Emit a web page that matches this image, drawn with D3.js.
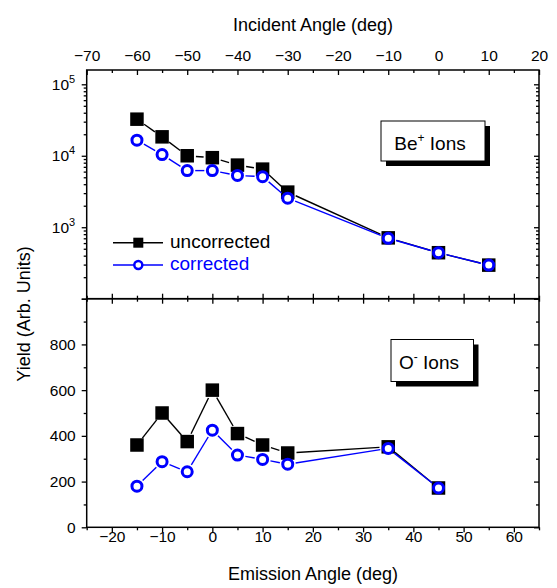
<!DOCTYPE html>
<html><head><meta charset="utf-8">
<script src="https://cdn.jsdelivr.net/npm/d3@7"></script>
<style>
html,body{margin:0;padding:0;background:#fff;}
text{font-family:"Liberation Sans",Arial,sans-serif;fill:#000;}
</style></head>
<body>
<svg id="chart" width="557" height="588"></svg>
<script>
// ---- data ----
const beAngles = [-15, -10, -5, 0, 5, 10, 15, 35, 45, 55];
const beUncorrected = [32500, 18400, 10000, 9400, 7400, 6500, 3100, 710, 440, 295];
const beCorrected = [16500, 10400, 6200, 6200, 5300, 5100, 2550, 700, 440, 295];
const oAngles = [-15, -10, -5, 0, 5, 10, 15, 35, 45];
const oUncorrected = [360, 500, 375, 600, 410, 360, 325, 352, 172];
const oCorrected = [180, 287, 243, 425, 316, 297, 276, 345, 172];
const emissionMajor = [-20, -10, 0, 10, 20, 30, 40, 50, 60];
const emissionMinor = [-25, -15, -5, 5, 15, 25, 35, 45, 55, 65];
const incidentMajor = [-70, -60, -50, -40, -30, -20, -10, 0, 10, 20];
const incidentMinor = [-65, -55, -45, -35, -25, -15, -5, 5, 15];
const logMajor = [1e2, 1e3, 1e4, 1e5];
const logLabeled = [1e3, 1e4, 1e5];
const linMajor = [0, 200, 400, 600, 800, 1000];
const linLabeled = [0, 200, 400, 600, 800];
const linMinor = [100, 300, 500, 700, 900];
const seriesNames = ["uncorrected", "corrected"];

// ---- layout ----
const L = 86.7, R = 539, T = 70, MID = 298.7, B = 527.3;
const svg = d3.select("#chart");

const x = d3.scaleLinear().domain([-25, 65]).range([L, R]);
const xTop = d3.scaleLinear().domain([-70, 20]).range([L, R]);
const yLog = d3.scaleLog().domain([100, Math.pow(10, 5.2)]).range([MID, T]);
const yLin = d3.scaleLinear().domain([0, 1000]).range([B, MID]);

const logMinor = [];
[100, 1000, 10000].forEach(dec => { for (let k = 2; k <= 9; k++) logMinor.push(dec * k); });

const FS = 15.5;
function styleAxis(g) {
  g.select(".domain").remove();
  g.selectAll(".tick line").attr("stroke", "#000").attr("stroke-width", 1.3);
  g.selectAll(".tick text").attr("font-size", FS).attr("font-family", "Liberation Sans, Arial, sans-serif");
}

// ---- axes ----
// top axis (incident angle), ticks inward
svg.append("g").attr("transform", `translate(0,${T})`)
  .call(d3.axisTop(xTop).tickValues(incidentMajor).tickSizeInner(-5).tickSizeOuter(0).tickPadding(9).tickFormat(d3.format("d")))
  .call(styleAxis);
svg.append("g").attr("transform", `translate(0,${T})`)
  .call(d3.axisTop(xTop).tickValues(incidentMinor).tickSizeInner(-3).tickSizeOuter(0).tickFormat(""))
  .call(styleAxis);

// middle divider ticks crossing
[[d3.axisTop, 5, 3], [d3.axisBottom, 5, 3]].forEach(([ax, maj, min]) => {
  svg.append("g").attr("transform", `translate(0,${MID})`)
    .call(ax(x).tickValues(emissionMajor).tickSizeInner(maj).tickSizeOuter(0).tickFormat(""))
    .call(styleAxis);
  svg.append("g").attr("transform", `translate(0,${MID})`)
    .call(ax(x).tickValues(emissionMinor).tickSizeInner(min).tickSizeOuter(0).tickFormat(""))
    .call(styleAxis);
});

// bottom axis
const bx = svg.append("g").attr("transform", `translate(0,${B})`)
  .call(d3.axisBottom(x).tickValues(emissionMajor).tickSizeInner(5).tickSizeOuter(0).tickFormat(d3.format("d")))
  .call(styleAxis);
bx.selectAll(".tick text").attr("y", 15).attr("dy", 0);
svg.append("g").attr("transform", `translate(0,${B})`)
  .call(d3.axisBottom(x).tickValues(emissionMinor).tickSizeInner(3).tickSizeOuter(0).tickFormat(""))
  .call(styleAxis);

// top panel left log axis
const ly = svg.append("g").attr("transform", `translate(${L},0)`)
  .call(d3.axisLeft(yLog).tickValues(logMajor).tickSizeInner(5).tickSizeOuter(0).tickPadding(6).tickFormat(""))
  .call(styleAxis);
ly.selectAll(".tick").filter(d => logLabeled.includes(d)).each(function (d) {
  const t = d3.select(this).select("text");
  t.attr("dy", "0.32em").attr("x", -11.5);
  t.append("tspan").text("10");
  t.append("tspan").attr("dy", -7).attr("font-size", 11).text(Math.round(Math.log10(d)));
});
svg.append("g").attr("transform", `translate(${L},0)`)
  .call(d3.axisLeft(yLog).tickValues(logMinor).tickSizeInner(3).tickSizeOuter(0).tickFormat(""))
  .call(styleAxis);
// top panel right log axis (inward)
svg.append("g").attr("transform", `translate(${R},0)`)
  .call(d3.axisRight(yLog).tickValues(logMajor).tickSizeInner(-5).tickSizeOuter(0).tickFormat(""))
  .call(styleAxis);
svg.append("g").attr("transform", `translate(${R},0)`)
  .call(d3.axisRight(yLog).tickValues(logMinor).tickSizeInner(-3).tickSizeOuter(0).tickFormat(""))
  .call(styleAxis);

// bottom panel left linear axis
const lyl = svg.append("g").attr("transform", `translate(${L},0)`)
  .call(d3.axisLeft(yLin).tickValues(linMajor).tickSizeInner(5).tickSizeOuter(0).tickPadding(6)
    .tickFormat(d => linLabeled.includes(d) ? d3.format("d")(d) : ""))
  .call(styleAxis);
svg.append("g").attr("transform", `translate(${L},0)`)
  .call(d3.axisLeft(yLin).tickValues(linMinor).tickSizeInner(3).tickSizeOuter(0).tickFormat(""))
  .call(styleAxis);
svg.append("g").attr("transform", `translate(${R},0)`)
  .call(d3.axisRight(yLin).tickValues(linMajor).tickSizeInner(-5).tickSizeOuter(0).tickFormat(""))
  .call(styleAxis);
svg.append("g").attr("transform", `translate(${R},0)`)
  .call(d3.axisRight(yLin).tickValues(linMinor).tickSizeInner(-3).tickSizeOuter(0).tickFormat(""))
  .call(styleAxis);

// frames
svg.append("rect").attr("x", L).attr("y", T).attr("width", R - L).attr("height", MID - T)
  .attr("fill", "none").attr("stroke", "#000").attr("stroke-width", 1.5);
svg.append("rect").attr("x", L).attr("y", MID).attr("width", R - L).attr("height", B - MID)
  .attr("fill", "none").attr("stroke", "#000").attr("stroke-width", 1.5);

// ---- series drawing ----
function drawSeries(xs, ys, yScale, color, kind, size) {
  const g = svg.append("g");
  const pts = xs.map((v, i) => [x(v), yScale(ys[i])]);
  const gap = kind === "square" ? size / 2 + 2 : size + 3;
  for (let i = 0; i < pts.length - 1; i++) {
    const [x1, y1] = pts[i], [x2, y2] = pts[i + 1];
    const dx = x2 - x1, dy = y2 - y1, len = Math.hypot(dx, dy);
    if (len <= 2 * gap) continue;
    const ux = dx / len, uy = dy / len;
    g.append("line")
      .attr("x1", x1 + ux * gap).attr("y1", y1 + uy * gap)
      .attr("x2", x2 - ux * gap).attr("y2", y2 - uy * gap)
      .attr("stroke", color).attr("stroke-width", 1.4);
  }
  if (kind === "square") {
    g.selectAll("rect.m").data(pts).join("rect").attr("class", "m")
      .attr("x", d => d[0] - size / 2).attr("y", d => d[1] - size / 2)
      .attr("width", size).attr("height", size).attr("fill", color);
  } else {
    g.selectAll("circle.m").data(pts).join("circle").attr("class", "m")
      .attr("cx", d => d[0]).attr("cy", d => d[1]).attr("r", size)
      .attr("fill", "#fff").attr("stroke", color).attr("stroke-width", 3);
  }
}
drawSeries(beAngles, beUncorrected, yLog, "#000", "square", 13.5);
drawSeries(beAngles, beCorrected, yLog, "#0000ff", "circle", 5);
drawSeries(oAngles, oUncorrected, yLin, "#000", "square", 13.5);
drawSeries(oAngles, oCorrected, yLin, "#0000ff", "circle", 5);

// ---- legend ----
const legRows = [242.7, 265];
const legColors = ["#000", "#0000ff"];
seriesNames.forEach((name, i) => {
  const yy = legRows[i];
  svg.append("line").attr("x1", 113).attr("x2", 163).attr("y1", yy).attr("y2", yy)
    .attr("stroke", legColors[i]).attr("stroke-width", 1.4);
  if (i === 0) {
    svg.append("rect").attr("x", 138.3 - 5).attr("y", yy - 5).attr("width", 10).attr("height", 10).attr("fill", "#000");
  } else {
    svg.append("circle").attr("cx", 138.3).attr("cy", yy).attr("r", 4)
      .attr("fill", "#fff").attr("stroke", "#0000ff").attr("stroke-width", 2.5);
  }
  svg.append("text").attr("x", 170).attr("y", yy + 4.8).attr("font-size", 19)
    .style("fill", legColors[i]).text(name);
});

// ---- annotation boxes ----
function labelBox(bx, by, bw, bh, tx, ty, base, sup) {
  svg.append("rect").attr("x", bx + 5).attr("y", by + 5).attr("width", bw).attr("height", bh).attr("fill", "#000");
  svg.append("rect").attr("x", bx).attr("y", by).attr("width", bw).attr("height", bh)
    .attr("fill", "#fff").attr("stroke", "#000").attr("stroke-width", 1);
  const t = svg.append("text").attr("x", tx).attr("y", ty).attr("font-size", 19);
  t.append("tspan").text(base);
  t.append("tspan").attr("dy", -8).attr("font-size", 12).text(sup);
  t.append("tspan").attr("dy", 8).text(" Ions");
}
labelBox(381, 121, 104, 40, 394.3, 150, "Be", "+");
labelBox(391, 339.5, 82.5, 42, 399, 369, "O", "-");

// ---- titles ----
svg.append("text").attr("x", 313).attr("y", 31).attr("text-anchor", "middle").attr("font-size", 18).text("Incident Angle (deg)");
svg.append("text").attr("x", 313).attr("y", 580).attr("text-anchor", "middle").attr("font-size", 18).text("Emission Angle (deg)");
svg.append("text").attr("transform", "translate(30,314) rotate(-90)").attr("text-anchor", "middle").attr("font-size", 18).text("Yield (Arb. Units)");
</script>
</body></html>
